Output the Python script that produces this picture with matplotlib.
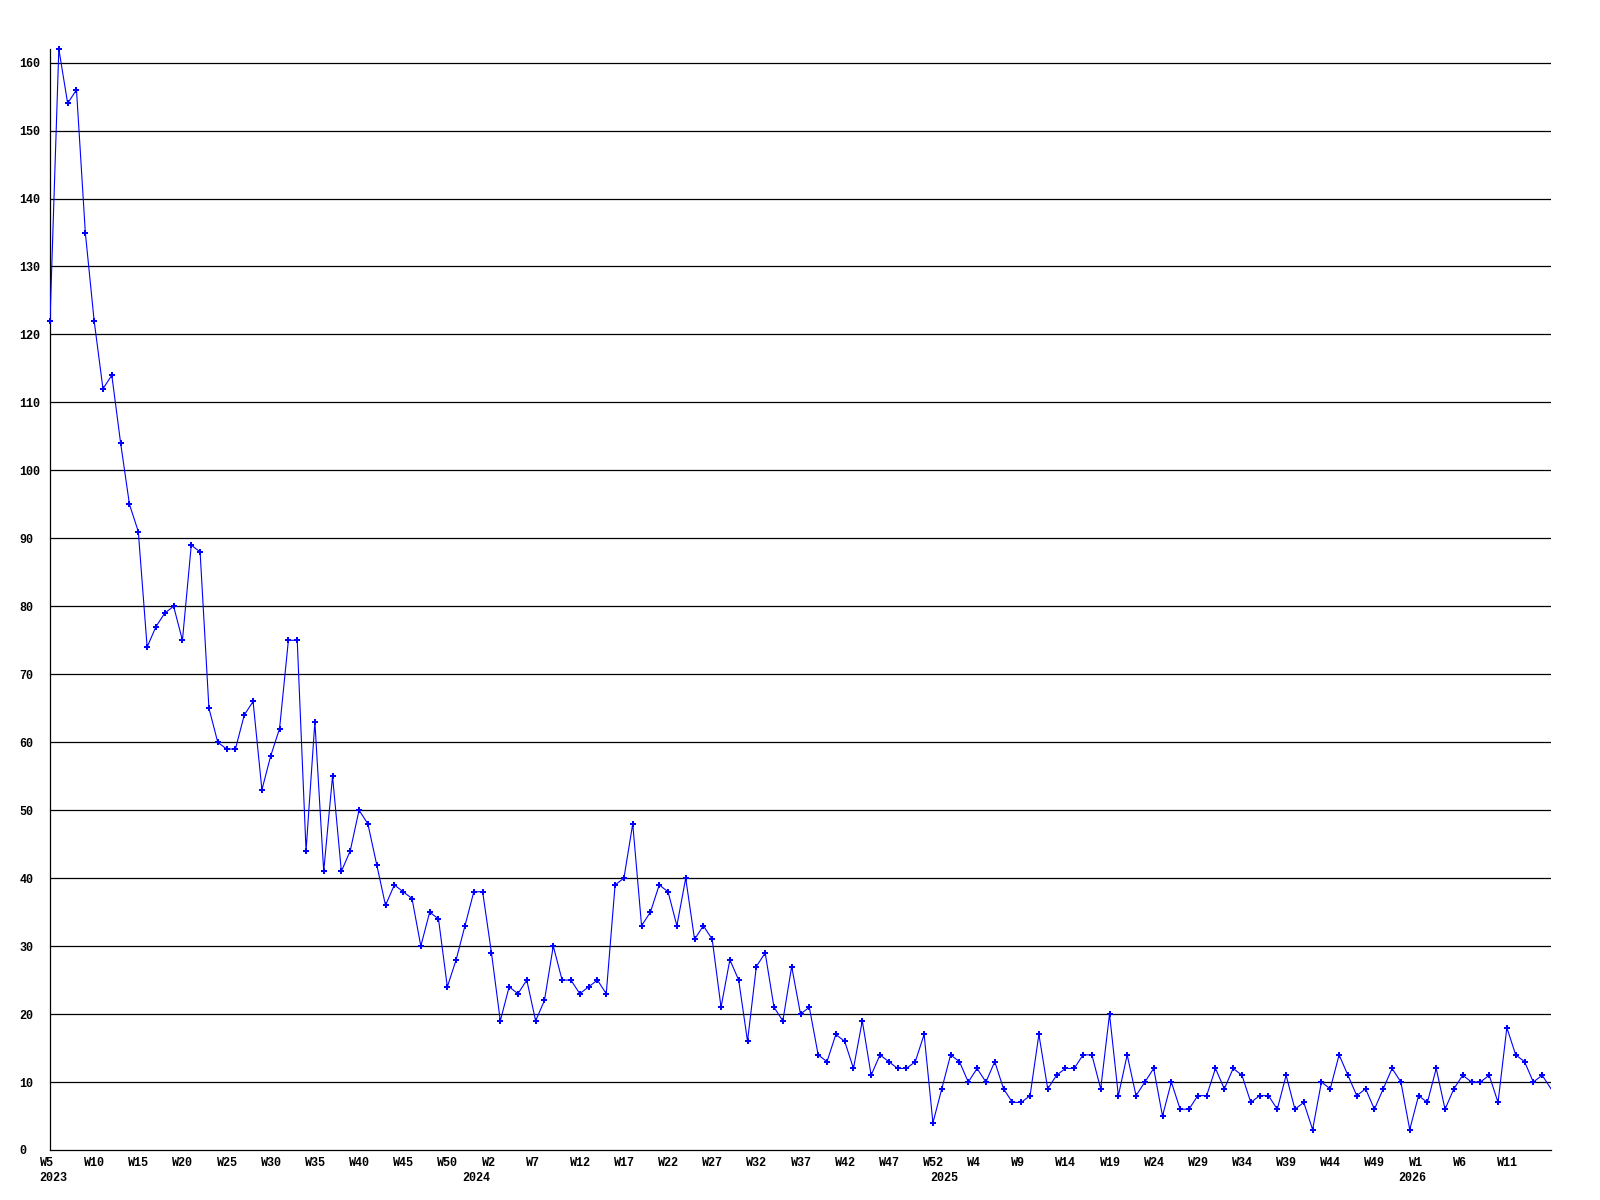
import matplotlib
matplotlib.use("Agg")
import matplotlib.pyplot as plt
import matplotlib.transforms as mtransforms

# weekly counts, 2023 W5 .. 2026 W16 (one point per week)
values = [
    122, 162, 154, 156, 135, 122, 112, 114, 104, 95,
    91, 74, 77, 79, 80, 75, 89, 88, 65, 60,
    59, 59, 64, 66, 53, 58, 62, 75, 75, 44,
    63, 41, 55, 41, 44, 50, 48, 42, 36, 39,
    38, 37, 30, 35, 34, 24, 28, 33, 38, 38,
    29, 19, 24, 23, 25, 19, 22, 30, 25, 25,
    23, 24, 25, 23, 39, 40, 48, 33, 35, 39,
    38, 33, 40, 31, 33, 31, 21, 28, 25, 16,
    27, 29, 21, 19, 27, 20, 21, 14, 13, 17,
    16, 12, 19, 11, 14, 13, 12, 12, 13, 17,
    4, 9, 14, 13, 10, 12, 10, 13, 9, 7,
    7, 8, 17, 9, 11, 12, 12, 14, 14, 9,
    20, 8, 14, 8, 10, 12, 5, 10, 6, 6,
    8, 8, 12, 9, 12, 11, 7, 8, 8, 6,
    11, 6, 7, 3, 10, 9, 14, 11, 8, 9,
    6, 9, 12, 10, 3, 8, 7, 12, 6, 9,
    11, 10, 10, 11, 7, 18, 14, 13, 10, 11,
    9,
]

# week numbering: 2023 starts at W5, each new year starts at W0
years = [2023, 2024, 2025, 2026]
first_week = [5, 0, 0, 0]
weeks_in_year = [53, 53, 53, 17]  # last week number + 1

week_labels = []
year_starts = []
for yr, w0, n in zip(years, first_week, weeks_in_year):
    year_starts.append((len(week_labels), str(yr)))
    for w in range(w0, n):
        week_labels.append(f"W{w}")
week_labels = week_labels[:len(values)]

x = list(range(len(values)))

fig = plt.figure(figsize=(16, 12), dpi=100)
ax = fig.add_axes([50 / 1600, 1 - 1150 / 1200, 1501 / 1600, 1101 / 1200])

font = dict(family="Liberation Mono", weight="bold", size=8.5)

# line is clipped, markers may overhang the frame (except the last, open week)
ax.plot(x, values, color="#0000ff", linewidth=0.8, zorder=3)
ax.plot(x[:-1], values[:-1], linestyle="none", color="#0000ff", marker="P",
        markersize=4.5, markeredgewidth=0, zorder=4, clip_on=False)

ax.set_xlim(0, len(values) - 1)
ax.set_ylim(0, 162)

ax.set_yticks(range(0, 161, 10))
ax.set_yticklabels([str(v) for v in range(0, 161, 10)], fontdict=font, ha="left")
ax.tick_params(axis="y", length=0, pad=22)
for v in range(10, 161, 10):
    ax.axhline(v, color="black", linewidth=0.9, zorder=1)

ticks = list(range(0, len(values) - 1, 5))
ax.set_xticks(ticks)
ax.set_xticklabels([week_labels[i] for i in ticks], fontdict=font, ha="left")
ax.tick_params(axis="x", length=0, pad=5)
shift = mtransforms.ScaledTranslation(-10 / 100, 0, fig.dpi_scale_trans)
for lbl in ax.get_xticklabels():
    lbl.set_transform(lbl.get_transform() + shift)

for idx, yr in year_starts:
    ax.annotate(yr, xy=(idx, 0), xycoords=("data", "axes fraction"),
                xytext=(2, -16), textcoords="offset points",
                ha="center", va="top", **font)

for side in ("top", "right"):
    ax.spines[side].set_visible(False)
for side in ("left", "bottom"):
    ax.spines[side].set_linewidth(0.9)
    ax.spines[side].set_color("black")

fig.savefig("out.png", dpi=100)
